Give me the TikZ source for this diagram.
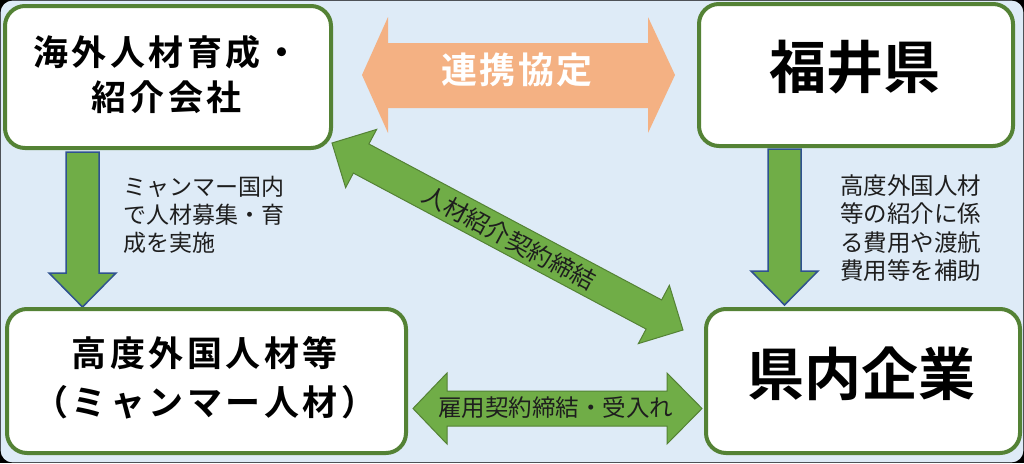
\documentclass[tikz,border=0pt]{standalone}
\usepackage{fontspec}
\newfontfamily\jp{Noto Sans CJK JP}
\newfontfamily\jpb{Noto Sans CJK JP Bold}[LetterSpace=10]
\newfontfamily\jpbig{Noto Sans CJK JP Bold}
\newfontfamily\jpo{Noto Sans CJK JP Bold}[LetterSpace=6]
\definecolor{bg}{HTML}{DEEBF7}
\definecolor{boxgreen}{HTML}{548235}
\definecolor{arrgreen}{HTML}{70AD47}
\definecolor{arrblue}{HTML}{2F528F}
\definecolor{arrorange}{HTML}{F4B183}
\definecolor{txtgray}{HTML}{1E1E1E}
\begin{document}
\begin{tikzpicture}[x=1pt,y=-1pt,
  box/.style={draw=boxgreen, line width=4pt, fill=white, rounded corners=20pt, inner sep=0pt},
  varrow/.style={fill=arrgreen, draw=arrblue, line width=1.5pt},
  garrow/.style={fill=arrgreen, draw=boxgreen, line width=1pt},
  oarrow/.style={fill=arrorange},
  boldtxt/.style={inner sep=0pt, align=center, text=black},
  smalltxt/.style={inner sep=0pt, text=txtgray}]
\useasboundingbox (0,0) rectangle (1024,463);
\fill[black] (0,0) rectangle (1024,463);
\fill[bg, rounded corners=12pt] (0.6,0.6) rectangle (1023.4,462.4);

% block arrows
\draw[varrow] (66,152) -- (99,152) -- (99,273) -- (116,273) -- (82.5,307) -- (49,273) -- (66,273) -- cycle;
\draw[varrow] (768,149) -- (801,149) -- (801,271) -- (818,271) -- (784.5,305) -- (751,271) -- (768,271) -- cycle;
\fill[oarrow] (362,75) -- (388,17) -- (388,43) -- (648,43) -- (648,17) -- (675,75) -- (648,133) -- (648,108) -- (388,108) -- (388,133) -- cycle;
\draw[garrow] (413,408.5) -- (447,373) -- (447,391) -- (667,391) -- (667,373) -- (702,408.5) -- (667,444) -- (667,426) -- (447,426) -- (447,444) -- cycle;
\begin{scope}[shift={(332,143)}, rotate=-28.05]
\draw[garrow] (0,0) -- (33,33) -- (33,16.5) -- (364.7,16.5) -- (364.7,33) -- (397.7,0) -- (364.7,-33) -- (364.7,-16.5) -- (33,-16.5) -- (33,-33) -- cycle;
\end{scope}

% boxes
\node[box, minimum width=326pt, minimum height=142pt] (A) at (168,77) {};
\node[box, minimum width=314pt, minimum height=142pt] (B) at (856,75) {};
\node[box, minimum width=399pt, minimum height=144pt] (C) at (206.5,381) {};
\node[box, minimum width=314pt, minimum height=144pt] (D) at (863,381) {};

% texts
\node[boldtxt, font=\jpb\fontsize{35}{45}\selectfont] (tA) at (166.3,74.5) {海外人材育成・\\紹介会社};
\node[boldtxt, font=\jpbig\fontsize{57}{60}\selectfont] (tB) at (855,67) {福井県};
\node[boldtxt, font=\jpb\fontsize{35}{49}\selectfont] (tC) at (204.7,377.5) {高度外国人材等\\（ミャンマー人材）};
\node[boldtxt, font=\jpbig\fontsize{57}{60}\selectfont] (tD) at (861,374) {県内企業};
\node[boldtxt, text=white, font=\jpo\fontsize{36}{40}\selectfont] (tO) at (517,70) {連携協定};
\node[smalltxt, anchor=west, align=left, font=\jp\fontsize{23}{28}\selectfont] (tL) at (123,215) {ミャンマー国内\\で人材募集・育\\成を実施};
\node[smalltxt, anchor=west, align=left, font=\jp\fontsize{23.5}{28.4}\selectfont] (tR) at (840,228) {高度外国人材\\等の紹介に係\\る費用や渡航\\費用等を補助};
\node[smalltxt, rotate=-28.05, font=\jp\fontsize{24}{28}\selectfont] (tDiag) at (509,238) {人材紹介契約締結};
\node[smalltxt, font=\jp\fontsize{23.5}{28}\selectfont] (tBot) at (555.5,408) {雇用契約締結・受入れ};
\end{tikzpicture}
\end{document}
